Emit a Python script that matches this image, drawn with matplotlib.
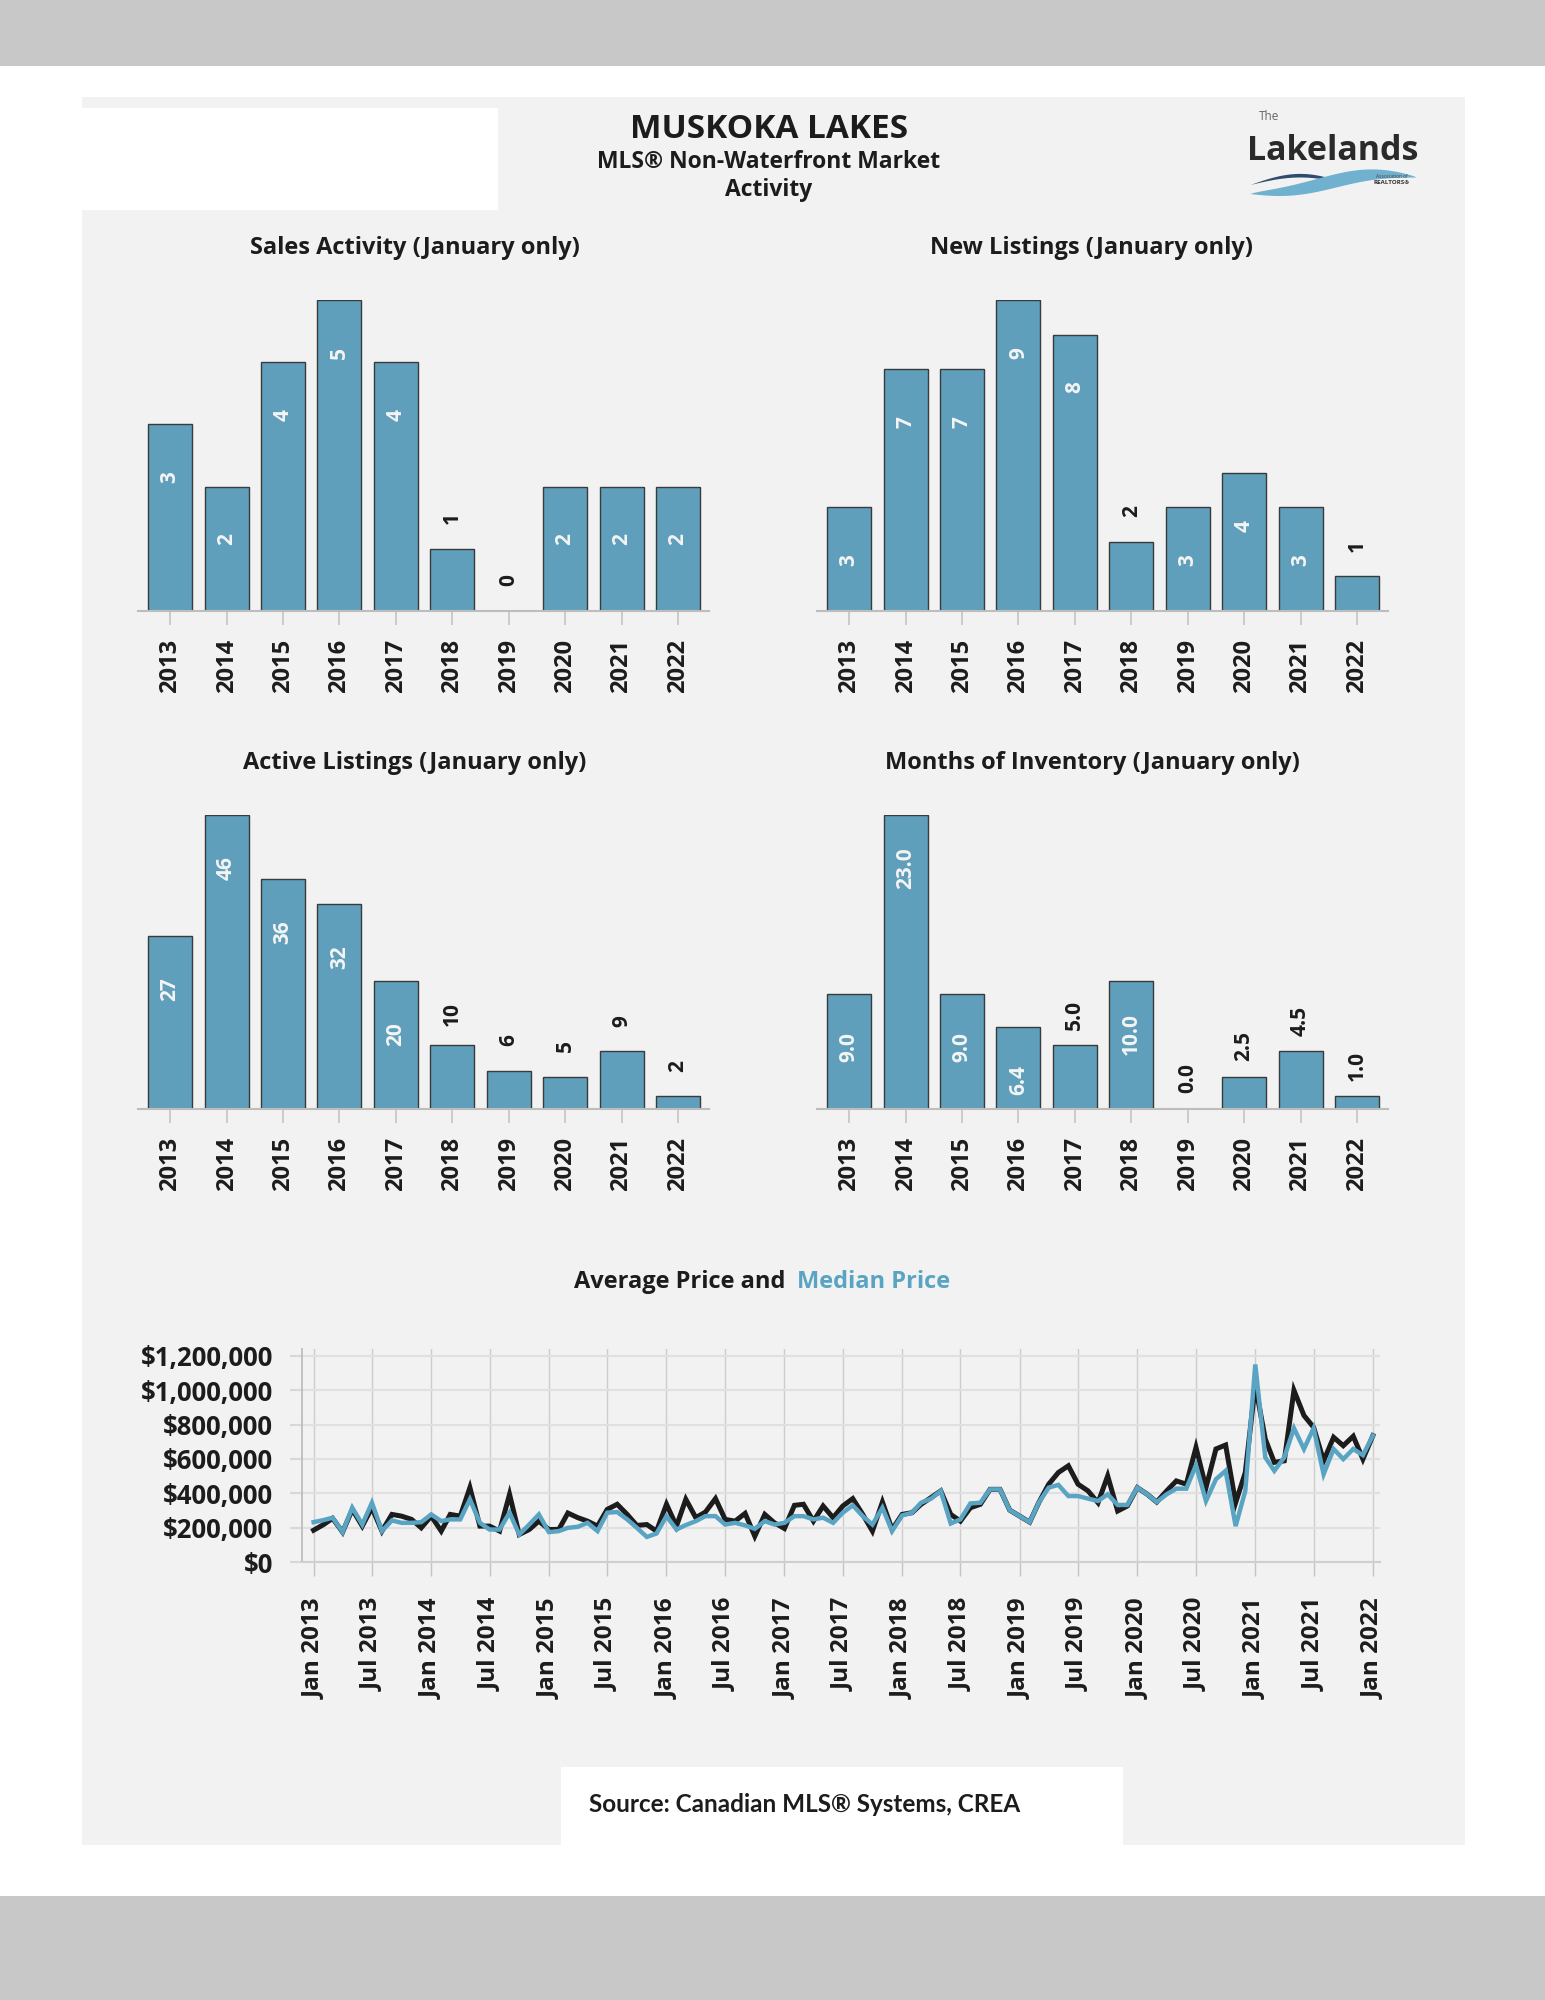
"""
Muskoka Lakes - MLS Non-Waterfront Market Activity (January only)
"""

import matplotlib.pyplot as plt
import matplotlib.patches as mpatches
import matplotlib.ticker as mticker
import numpy as np
import pandas as pd

plt.rcParams['font.family'] = ['Open Sans', 'DejaVu Sans']

# ============================================================================
# DATA
# ============================================================================
years = ['2013', '2014', '2015', '2016', '2017', '2018', '2019', '2020', '2021', '2022']
sales = [3, 2, 4, 5, 4, 1, 0, 2, 2, 2]
new_listings = [3, 7, 7, 9, 8, 2, 3, 4, 3, 1]
active_listings = [27, 46, 36, 32, 20, 10, 6, 5, 9, 2]
months_inventory = [9.0, 23.0, 9.0, 6.4, 5.0, 10.0, 0.0, 2.5, 4.5, 1.0]

months = pd.date_range('2013-01-01', '2022-01-01', freq='MS')
# monthly prices, thousands of dollars
avg_price_k = [
    185, 218, 254, 174, 306, 209, 316, 180, 277, 267, 248, 199,   # 2013
    267, 180, 277, 267, 433, 209, 209, 180, 394, 160, 189, 238,   # 2014
    189, 190, 285, 258, 238, 209, 306, 336, 277, 213, 218, 180,   # 2015
    336, 209, 365, 258, 291, 369, 248, 238, 283, 150, 277, 228,   # 2016
    195, 330, 336, 238, 326, 258, 326, 369, 277, 180, 349, 189,   # 2017
    277, 287, 336, 375, 414, 277, 238, 316, 336, 423, 423, 302,   # 2018
    267, 232, 345, 453, 521, 560, 453, 414, 345, 501, 297, 326,   # 2019
    433, 394, 349, 414, 472, 453, 667, 433, 658, 681, 345, 521,   # 2020
    1030, 716, 580, 589, 999, 853, 784, 589, 726, 677, 732, 599,  # 2021
    736,                                                          # 2022
]
median_price_k = [
    232, 244, 258, 174, 316, 218, 345, 180, 242, 228, 228, 232,   # 2013
    277, 238, 248, 248, 365, 228, 189, 189, 287, 160, 218, 277,   # 2014
    174, 180, 199, 205, 228, 180, 287, 291, 248, 199, 146, 166,   # 2015
    267, 189, 215, 238, 267, 267, 218, 228, 213, 193, 238, 218,   # 2016
    228, 267, 267, 248, 258, 228, 287, 330, 267, 218, 316, 180,   # 2017
    271, 287, 345, 369, 414, 224, 248, 341, 345, 423, 423, 302,   # 2018
    267, 232, 345, 433, 449, 384, 384, 369, 355, 394, 332, 332,   # 2019
    433, 394, 349, 394, 427, 427, 564, 355, 482, 531, 209, 414,   # 2020
    1150, 609, 531, 609, 779, 658, 779, 511, 658, 599, 658, 622,  # 2021
    736,                                                          # 2022
]
avg_price = np.array(avg_price_k) * 1000
median_price = np.array(median_price_k) * 1000

# colours
BAR = '#5f9fbb'
BLUE = '#5aa4c3'
DARK = '#1c1c1c'
PANEL = '#f2f2f2'
BAND = '#c8c8c8'

W, H = 1545, 2000
fig = plt.figure(figsize=(W / 100, H / 100), dpi=100)
fig.patch.set_facecolor('white')


def px_rect(x0, y0, x1, y1, color):
    fig.add_artist(mpatches.Rectangle((x0 / W, 1 - y1 / H), (x1 - x0) / W, (y1 - y0) / H,
                                      transform=fig.transFigure, facecolor=color,
                                      edgecolor='none', zorder=-5))


def px_axes(left, top, right, bottom):
    ax = fig.add_axes([left / W, 1 - bottom / H, (right - left) / W, (bottom - top) / H])
    ax.set_facecolor('none')
    return ax


def px_text(x, y, s, **kw):
    return fig.text(x / W, 1 - y / H, s, **kw)


# ============================================================================
# PAGE BACKGROUND
# ============================================================================
px_rect(0, 0, W, 66, BAND)
px_rect(0, 1896, W, H, BAND)
px_rect(82, 97, 1465, 1845, PANEL)
px_rect(82, 108, 498, 210, 'white')
px_rect(561, 1767, 1123, 1845, 'white')

# header
px_text(769, 130, 'MUSKOKA LAKES', ha='center', va='center', fontsize=24,
        fontweight='bold', color=DARK)
px_text(769, 162, 'MLS® Non-Waterfront Market', ha='center', va='center', fontsize=16.5,
        fontweight='bold', color=DARK)
px_text(769, 190, 'Activity', ha='center', va='center', fontsize=16.5,
        fontweight='bold', color=DARK)

# logo
px_text(1259, 117, 'The', ha='left', va='center', fontsize=8.5, color='#666666')
px_text(1333, 160, 'Lakelands', ha='center', va='baseline', fontsize=24.5,
        fontweight='bold', color='#2a2a2a')
px_text(1392, 176, 'Association of', ha='center', va='center', fontsize=3.5, color='#444444')
px_text(1392, 182, 'REALTORS®', ha='center', va='center', fontsize=4.5,
        fontweight='bold', color='#333333')
ax_logo = px_axes(1250, 165, 1416, 195)
ax_logo.axis('off')
ax_logo.set_xlim(0, 1)
ax_logo.set_ylim(0, 1)
t = np.linspace(0, 1, 120)
dark_low = 0.35 + 0.25 * np.sin(np.pi * t[:60] / 0.6)
ax_logo.fill_between(t[:60], dark_low, dark_low + 0.12 * np.sin(np.pi * t[:60] / 0.6),
                     color='#2f4a6d', linewidth=0)
light_low = 0.05 + 0.55 * t ** 1.5 - 0.12 * np.sin(2 * np.pi * t)
ax_logo.fill_between(t, light_low, light_low + 0.45 * np.sin(np.pi * t) ** 0.8,
                     color='#6fb1cf', linewidth=0)

# ============================================================================
# BAR PANELS
# ============================================================================


def bar_panel(box, title_xy, title, values, fmt):
    ax = px_axes(*box)
    x = np.arange(len(years))
    top = max(values)
    ax.bar(x, values, width=0.78, color=BAR, edgecolor='#3a3a3a', linewidth=1.0)
    ax.set_xlim(-0.57, 9.55)
    ax.set_ylim(0, top)
    for s in ['top', 'right', 'left']:
        ax.spines[s].set_visible(False)
    ax.spines['bottom'].set_color('#bdbdbd')
    ax.spines['bottom'].set_linewidth(1.5)
    ax.set_yticks([])
    ax.set_xticks(x)
    ax.set_xticklabels(years, rotation=90, fontsize=17, fontweight='bold', color=DARK)
    ax.tick_params(axis='x', length=10, width=1.2, color='#c4c4c4', pad=10)

    for xi, v in zip(x, values):
        label = fmt.format(v)
        if v >= 0.25 * top:
            ax.annotate(label, (xi, v), xytext=(0, -38), textcoords='offset points',
                        rotation=90, ha='center', va='center', fontsize=15,
                        fontweight='bold', color='#f4f4f4')
        else:
            ax.annotate(label, (xi, v), xytext=(0, 22), textcoords='offset points',
                        rotation=90, ha='center', va='center', fontsize=15,
                        fontweight='bold', color=DARK)

    px_text(title_xy[0], title_xy[1], title, ha='center', va='center', fontsize=17,
            fontweight='bold', color=DARK)
    return ax


bar_panel((138, 300, 709, 611), (415, 248), 'Sales Activity (January only)', sales, '{:d}')
bar_panel((817, 300, 1388, 611), (1092, 248), 'New Listings (January only)', new_listings, '{:d}')
bar_panel((138, 815, 709, 1109), (415, 763), 'Active Listings (January only)', active_listings, '{:d}')
bar_panel((817, 815, 1388, 1109), (1092, 763), 'Months of Inventory (January only)',
          months_inventory, '{:.1f}')

# ============================================================================
# PRICE LINE CHART
# ============================================================================
px_text(785, 1282, 'Average Price and', ha='right', va='center', fontsize=17,
        fontweight='bold', color=DARK)
px_text(797, 1282, 'Median Price', ha='left', va='center', fontsize=17,
        fontweight='bold', color=BLUE)

ax = px_axes(302, 1349, 1380, 1562)
ax.plot(months, avg_price, color=DARK, linewidth=3.6, solid_joinstyle='miter', zorder=3)
ax.plot(months, median_price, color=BLUE, linewidth=3.2, solid_joinstyle='miter', zorder=4)

ax.set_ylim(0, 1.24e6)
ax.set_yticks(np.arange(0, 1.2e6 + 1, 2e5))
ax.yaxis.set_major_formatter(mticker.FuncFormatter(lambda v, p: f'${v:,.0f}'))
ax.set_xlim(months[0] - pd.Timedelta(days=36), months[-1] + pd.Timedelta(days=22))
ax.set_xticks(months[::6])
ax.set_xticklabels([m.strftime('%b %Y') for m in months[::6]], rotation=90)

for s in ['top', 'right']:
    ax.spines[s].set_visible(False)
ax.spines['left'].set_color('#bdbdbd')
ax.spines['bottom'].set_color('#cfcfcf')
ax.spines['left'].set_linewidth(1.3)
ax.spines['bottom'].set_linewidth(1.5)

ax.xaxis.grid(True, color='#cdcdcd', linewidth=1.0)
ax.yaxis.grid(True, color='#e0e0e0', linewidth=1.6)
ax.set_axisbelow(True)

ax.tick_params(axis='y', length=9, width=1.5, color='#d8d8d8', pad=12,
               labelsize=18.5, labelcolor=DARK)
ax.tick_params(axis='x', length=10, width=1.0, color='#c4c4c4', pad=16,
               labelsize=17.5, labelcolor=DARK)
for lbl in ax.get_xticklabels() + ax.get_yticklabels():
    lbl.set_fontweight('bold')

# ============================================================================
# FOOTER
# ============================================================================
px_text(589, 1805, 'Source: Canadian MLS® Systems, CREA', ha='left', va='center',
        fontsize=17.5, fontweight='bold', color=DARK, family=['Lato', 'DejaVu Sans'])

plt.savefig('out.png', dpi=100, facecolor='white')
plt.close()
